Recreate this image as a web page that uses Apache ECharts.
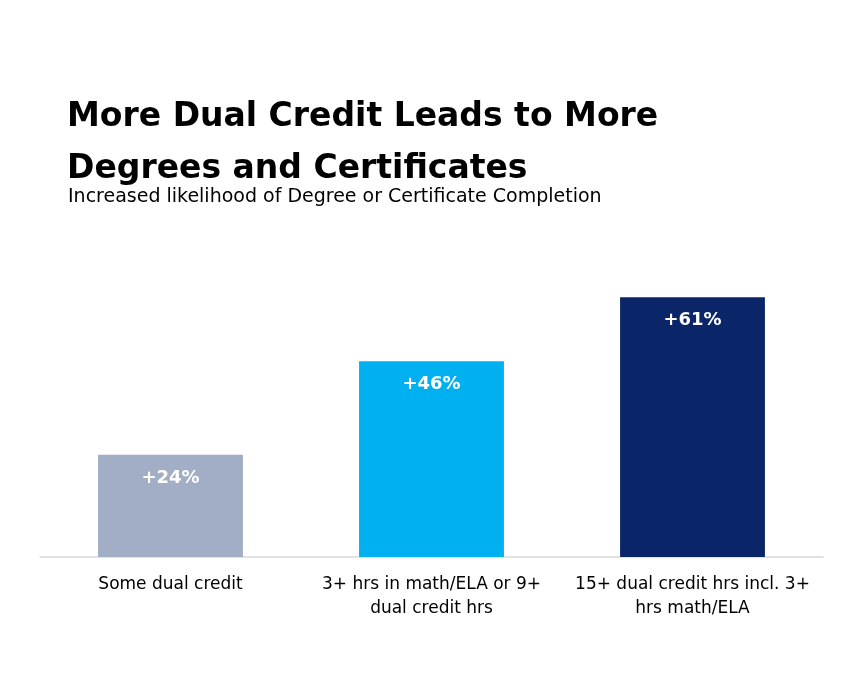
<!DOCTYPE html>
<html><head><meta charset="utf-8">
<script src="https://cdn.jsdelivr.net/npm/echarts@6/dist/echarts.min.js"></script>
<style>html,body{margin:0;padding:0;background:#fff}#c{width:864px;height:692px}</style>
</head><body><div id="c"></div>
<script>
const categories = ["Some dual credit", "3+ hrs in math/ELA or 9+\ndual credit hrs", "15+ dual credit hrs incl. 3+\nhrs math/ELA"];
const values = [24, 46, 61];
const colors = ["#a2adc6", "#00b0f0", "#0a2568"];
const chart = echarts.init(document.getElementById('c'));
chart.setOption({
  title: [
    {text: "More Dual Credit Leads to More\nDegrees and Certificates", left: 62, top: 86,
     textStyle: {fontFamily: "DejaVu Sans", fontWeight: "bold", fontSize: 33, lineHeight: 52, color: "#000"}},
    {text: "Increased likelihood of Degree or Certificate Completion", left: 63, top: 183,
     textStyle: {fontFamily: "DejaVu Sans", fontWeight: "normal", fontSize: 19, color: "#000"}}
  ],
  grid: {left: 40, right: 41, top: 259, bottom: 135},
  xAxis: {type: "category", data: categories,
    axisLine: {lineStyle: {color: "#d9d9d9", width: 1.5}}, axisTick: {show: false},
    axisLabel: {color: "#000", fontFamily: "DejaVu Sans", fontSize: 17, lineHeight: 24, margin: 16, interval: 0}},
  yAxis: {type: "value", min: 0, max: 70, show: false, splitLine: {show: false}},
  series: [{type: "bar", barWidth: "55.5%",
    data: values.map((v, i) => ({value: v, itemStyle: {color: colors[i]}})),
    label: {show: true, position: "insideTop", distance: 14, formatter: p => "+" + p.value + "%",
      color: "#fff", fontFamily: "DejaVu Sans", fontWeight: "bold", fontSize: 18}}]
});
</script></body></html>
